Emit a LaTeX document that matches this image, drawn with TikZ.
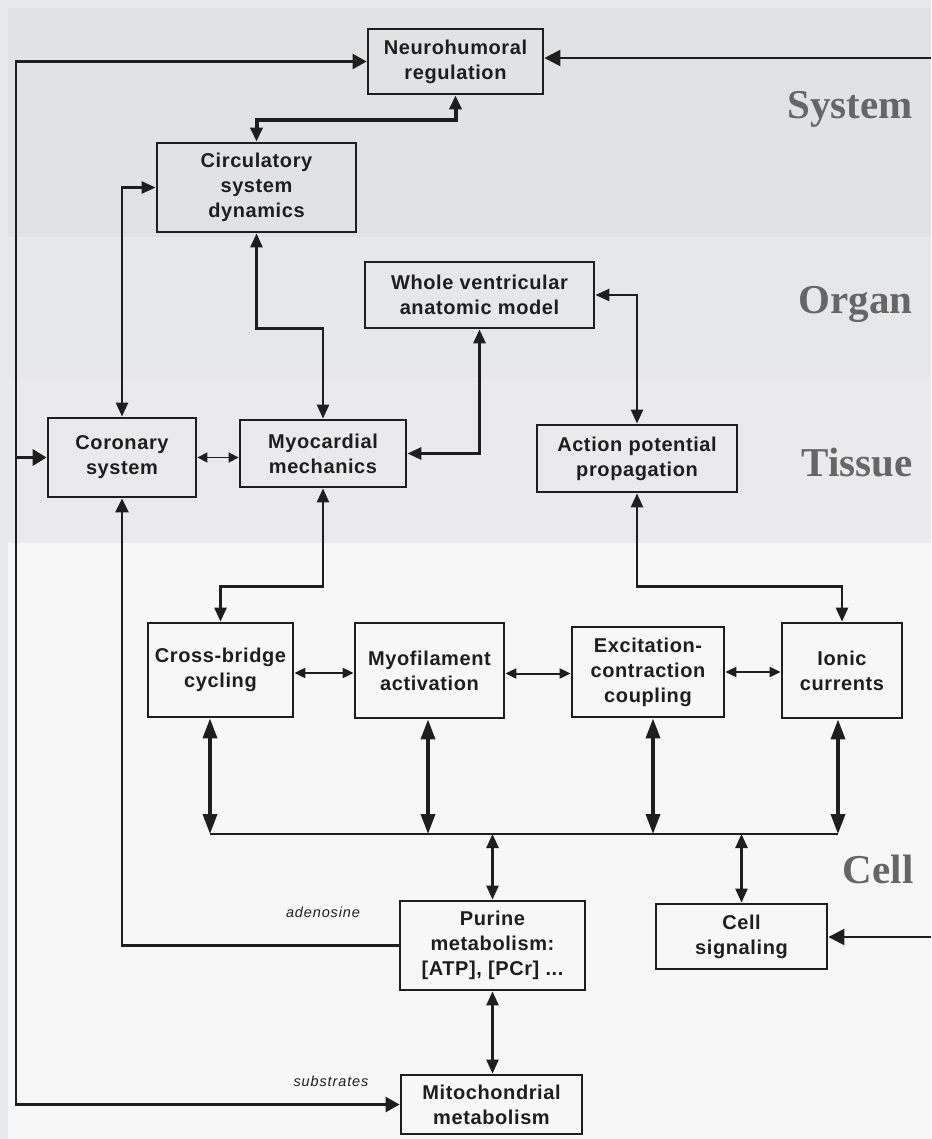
\documentclass[tikz,border=0pt]{standalone}
\usepackage{fontspec}
\setmainfont{Liberation Sans}
\newfontfamily\lblfont{Liberation Serif}
\newfontfamily\boxfont[LetterSpace=3]{Liberation Sans}
\newfontfamily\smallfont[LetterSpace=6]{Liberation Sans}
\usetikzlibrary{arrows.meta,calc}
\definecolor{outerbg}{HTML}{E8E9EB}
\definecolor{sysbg}{HTML}{E1E2E4}
\definecolor{orgbg}{HTML}{E6E7E9}
\definecolor{tisbg}{HTML}{EAEAEC}
\definecolor{cellbg}{HTML}{F7F7F7}
\definecolor{lc}{HTML}{1E1E1E}
\definecolor{lblgray}{HTML}{666666}
\begin{document}
\begin{tikzpicture}[x=1pt,y=-1pt,
  box/.style={draw=lc, line width=2.8pt, align=center, inner sep=0pt, text=lc,
    font=\boxfont\bfseries\fontsize{20}{25}\selectfont},
  ln/.style={draw=lc, line width=2.5pt},
  dbl/.style={arrows={Triangle[length=14pt,width=12pt]-Triangle[length=14pt,width=12pt]}},
  bigdbl/.style={arrows={Triangle[length=20pt,width=14pt]-Triangle[length=20pt,width=14pt]}},
  smdbl/.style={arrows={Triangle[length=11pt,width=10pt]-Triangle[length=11pt,width=10pt]}},
  tinydbl/.style={arrows={Triangle[length=10pt,width=10pt]-Triangle[length=10pt,width=10pt]}},
  toarr/.style={arrows={-Triangle[length=14pt,width=13pt]}},
  bandlbl/.style={anchor=base east, text=lblgray, font=\lblfont\bfseries\fontsize{41}{41}\selectfont},
  smalllbl/.style={anchor=base, text=lc, font=\smallfont\itshape\fontsize{14.5}{14.5}\selectfont}
]
\useasboundingbox (0,0) rectangle (931,1139);
% background bands
\fill[outerbg] (0,0) rectangle (931,1139);
\fill[sysbg] (8,8) rectangle (931,237);
\fill[orgbg] (8,237) rectangle (931,377);
\fill[tisbg] (8,377) rectangle (931,543);
\fill[cellbg] (8,543) rectangle (931,1139);

% band labels
\node[bandlbl] (lsys) at (916,119) {System};
\node[bandlbl] (lorg) at (916,313) {Organ};
\node[bandlbl] (ltis) at (916,476) {Tissue};
\node[bandlbl] (lcell) at (917,883) {Cell};

% boxes
\node[box,minimum width=175pt,minimum height=65pt] (neuro) at (455.5,61.5) {Neurohumoral\\regulation};
\node[box,minimum width=199pt,minimum height=89pt] (circ) at (256.5,187.5) {Circulatory\\system\\dynamics};
\node[box,minimum width=229pt,minimum height=66pt] (whole) at (479.5,295) {Whole ventricular\\anatomic model};
\node[box,minimum width=148pt,minimum height=79pt] (coro) at (122,457.5) {Coronary\\system};
\node[box,minimum width=166pt,minimum height=67pt] (myo) at (323,453.5) {Myocardial\\mechanics};
\node[box,minimum width=200pt,minimum height=67pt] (ap) at (637,458.5) {Action potential\\propagation};
\node[box,minimum width=145pt,minimum height=94pt] (cb) at (220.5,670) {Cross-bridge\\cycling};
\node[box,minimum width=149pt,minimum height=95pt] (mf) at (429.5,670.5) {Myofilament\\activation};
\node[box,minimum width=152pt,minimum height=90pt] (ec) at (648,672) {Excitation-\\contraction\\coupling};
\node[box,minimum width=120pt,minimum height=95pt] (ion) at (842,670.5) {Ionic\\currents};
\node[box,minimum width=185pt,minimum height=89pt] (pur) at (492.5,945.5) {Purine\\metabolism:\\{[ATP], [PCr] ...}};
\node[box,minimum width=171pt,minimum height=65pt] (sig) at (741.5,936.5) {Cell\\signaling};
\node[box,minimum width=181pt,minimum height=59pt] (mito) at (491.5,1104.5) {Mitochondrial\\metabolism};

% small labels
\node[smalllbl] (aden) at (323,917) {adenosine};
\node[smalllbl] (subs) at (331,1086) {substrates};

% left feedback line
\coordinate (lt) at (16,61.5);
\draw[ln, arrows={Triangle[length=14pt,width=15pt]-Triangle[length=14pt,width=15pt]}] (mito.west) -| (lt) -- (neuro.west);
\draw[ln, line width=3.5pt, arrows={-Triangle[length=14pt,width=16pt]}] (coro.west -| lt) -- (coro.west);

% right inputs
\coordinate (rt1) at (931,58);
\draw[ln, arrows={-Triangle[length=16pt,width=16pt]}] (rt1) -- (rt1 -| neuro.east);
\coordinate (rt2) at (931,937);
\draw[ln, arrows={-Triangle[length=16pt,width=16pt]}] (rt2) -- (rt2 -| sig.east);

% system / organ / tissue links
\draw[ln, line width=4pt, dbl] (neuro.south) -- ++(0,25) -| (circ.north);
\draw[ln, dbl] (circ.west) -| (coro.north);
\draw[ln, dbl] (circ.south) -- ++(0,95) -| (myo.north);
\draw[ln, line width=3pt, dbl] (whole.south) |- (myo.east);
\draw[ln, dbl] (whole.east) -| (ap.north);
\draw[ln, line width=1.6pt, tinydbl] (coro.east) -- (coro.east -| myo.west);
\draw[ln, toarr] (pur.west) -| (coro.south);
\draw[ln, dbl] (myo.south) -- ++(0,98) -| (cb.north);
\draw[ln, dbl] (ap.south) -- ++(0,93) -| (ion.north);

% cell row links
\draw[ln, line width=2pt, smdbl] ($(cb.east)+(0,3)$) -- ($(cb.east -| mf.west)+(0,3)$);
\draw[ln, line width=2pt, smdbl] ($(mf.east)+(0,3)$) -- ($(mf.east -| ec.west)+(0,3)$);
\draw[ln, line width=2pt, smdbl] (ec.east) -- (ec.east -| ion.west);

% bus
\coordinate (b1) at (210,834);
\coordinate (b2) at (428,834);
\coordinate (b3) at (653,834);
\coordinate (b4) at (838,834);
\draw[draw=lc, line width=1.5pt] (b1) -- (b4);
\draw[ln, line width=3.5pt, bigdbl] (cb.south -| b1) -- (b1);
\draw[ln, line width=3.5pt, bigdbl] (mf.south -| b2) -- (b2);
\draw[ln, line width=3.5pt, bigdbl] (ec.south -| b3) -- (b3);
\draw[ln, line width=3.5pt, bigdbl] (ion.south -| b4) -- (b4);
\draw[ln, dbl] (pur.north) -- (pur.north |- b1);
\draw[ln, dbl] (sig.north) -- (sig.north |- b1);
\draw[ln, dbl] (pur.south) -- (pur.south |- mito.north);
\end{tikzpicture}
\end{document}
